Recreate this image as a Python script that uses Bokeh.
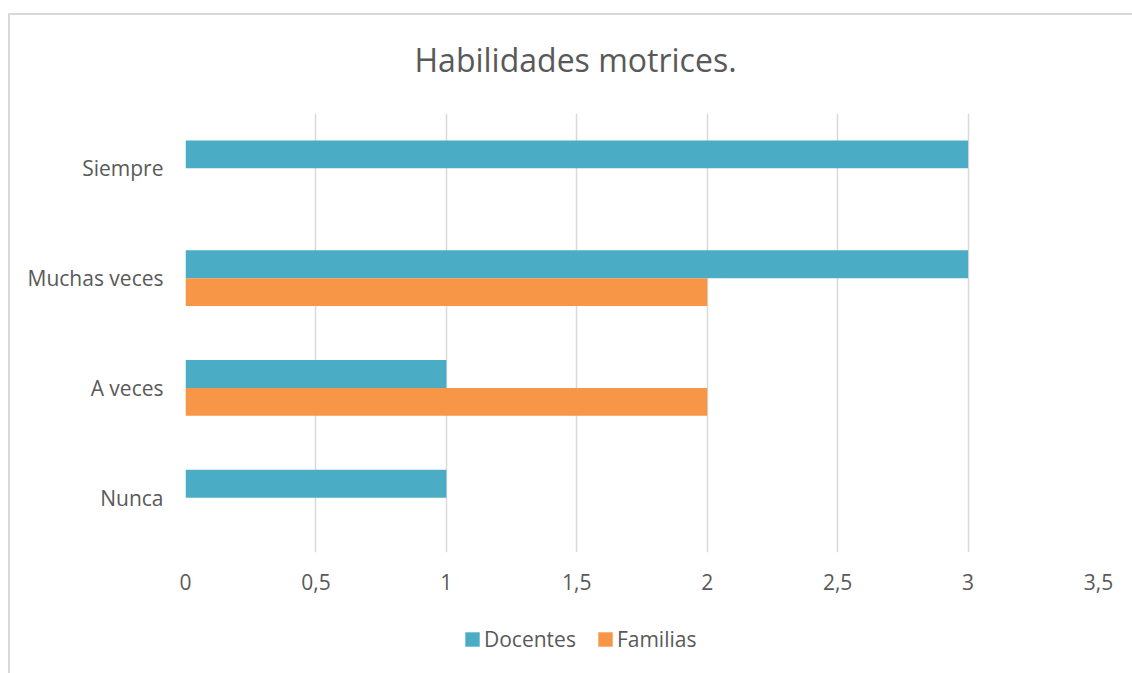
from bokeh.plotting import figure
from bokeh.layouts import column
from bokeh.models import (ColumnDataSource, FactorRange, Range1d, Legend, LegendItem,
                          FixedTicker, CustomJSTickFormatter)
from bokeh.transform import dodge
from bokeh.embed import file_html
from bokeh.resources import INLINE

categories = ["Nunca", "A veces", "Muchas veces", "Siempre"]
docentes = [1, 1, 3, 3]
familias = [0, 2, 2, 0]
x_ticks = [0, 0.5, 1, 1.5, 2, 2.5, 3, 3.5]
series_names = ["Docentes", "Familias"]
title_text = "Habilidades motrices."

FONT = "Open Sans"
TXT = "#595959"
GRID = "#d9d9d9"
BLUE = "#4BACC6"
ORANGE = "#F79646"

src = ColumnDataSource(dict(cat=categories, doc=docentes, fam=familias))

W = 1132
H1, H2 = 605, 68
p = figure(width=W, height=H1, output_backend="svg", toolbar_location=None,
           y_range=FactorRange(factors=categories, range_padding=0),
           x_range=Range1d(0, 3.5),
           min_border_left=185, min_border_right=34,
           min_border_top=113, min_border_bottom=53)
p.outline_line_color = None
p.background_fill_color = "white"
p.border_fill_color = None

bw = 0.255
r_doc = p.hbar(y=dodge("cat", bw / 2, range=p.y_range), right="doc", left=0,
               height=bw, source=src, fill_color=BLUE, line_color=None)
r_fam = p.hbar(y=dodge("cat", -bw / 2, range=p.y_range), right="fam", left=0,
               height=bw, source=src, fill_color=ORANGE, line_color=None)

# grids
p.ygrid.grid_line_color = None
p.xgrid.grid_line_color = GRID
p.xgrid.grid_line_width = 1.5
p.xaxis.ticker = FixedTicker(ticks=x_ticks)
p.xgrid.ticker = FixedTicker(ticks=x_ticks)
p.xaxis.formatter = CustomJSTickFormatter(code="return tick.toString().replace('.', ',');")

for ax in (p.xaxis[0], p.yaxis[0]):
    ax.axis_line_color = None
    ax.major_tick_line_color = None
    ax.minor_tick_line_color = None
    ax.major_tick_out = 0
    ax.major_tick_in = 0
    ax.major_label_text_font = FONT
    ax.major_label_text_font_size = "21px"
    ax.major_label_text_color = TXT
p.xaxis.major_label_standoff = 21
p.yaxis.major_label_standoff = 22

# title
p.title.text = title_text
p.title.align = "left"
p.title.offset = 229
p.title.standoff = 66
p.title.text_font = FONT
p.title.text_font_size = "32px"
p.title.text_font_style = "normal"
p.title.text_color = TXT

# legend strip below the chart (frame aligned with the chart's frame)
p2 = figure(width=W, height=H2, output_backend="svg", toolbar_location=None,
            x_range=Range1d(0, 1), y_range=Range1d(0, 1),
            x_axis_location=None, y_axis_location=None, title=None,
            min_border=0)
p2.outline_line_color = None
p2.background_fill_color = None
p2.border_fill_color = None
p2.grid.visible = False
# zero-width proxies, only used for the legend swatches
l_doc = p2.hbar(y=[0.5], left=[0], right=[0], height=0.5, fill_color=BLUE, line_color=None)
l_fam = p2.hbar(y=[0.5], left=[0], right=[0], height=0.5, fill_color=ORANGE, line_color=None)

legend = Legend(items=[LegendItem(label=series_names[0], renderers=[l_doc]),
                       LegendItem(label=series_names[1], renderers=[l_fam])],
                orientation="horizontal", location="center_left",
                glyph_width=18, glyph_height=18, label_standoff=3, spacing=20,
                padding=0, margin=278, border_line_color=None, background_fill_alpha=0,
                label_text_font=FONT, label_text_font_size="21px", label_text_color=TXT)
p2.add_layout(legend, "center")

layout = column(p, p2, spacing=0)
# chart border (top and left edges visible in the window)
layout.styles = {
    "background-color": "white",
    "background-image": "linear-gradient(#d9d9d9, #d9d9d9), linear-gradient(#d9d9d9, #d9d9d9)",
    "background-size": "100% 2px, 2px 100%",
    "background-position": "8px 13px, 8px 13px",
    "background-repeat": "no-repeat",
}

open("out.html", "w").write(file_html(layout, INLINE))
